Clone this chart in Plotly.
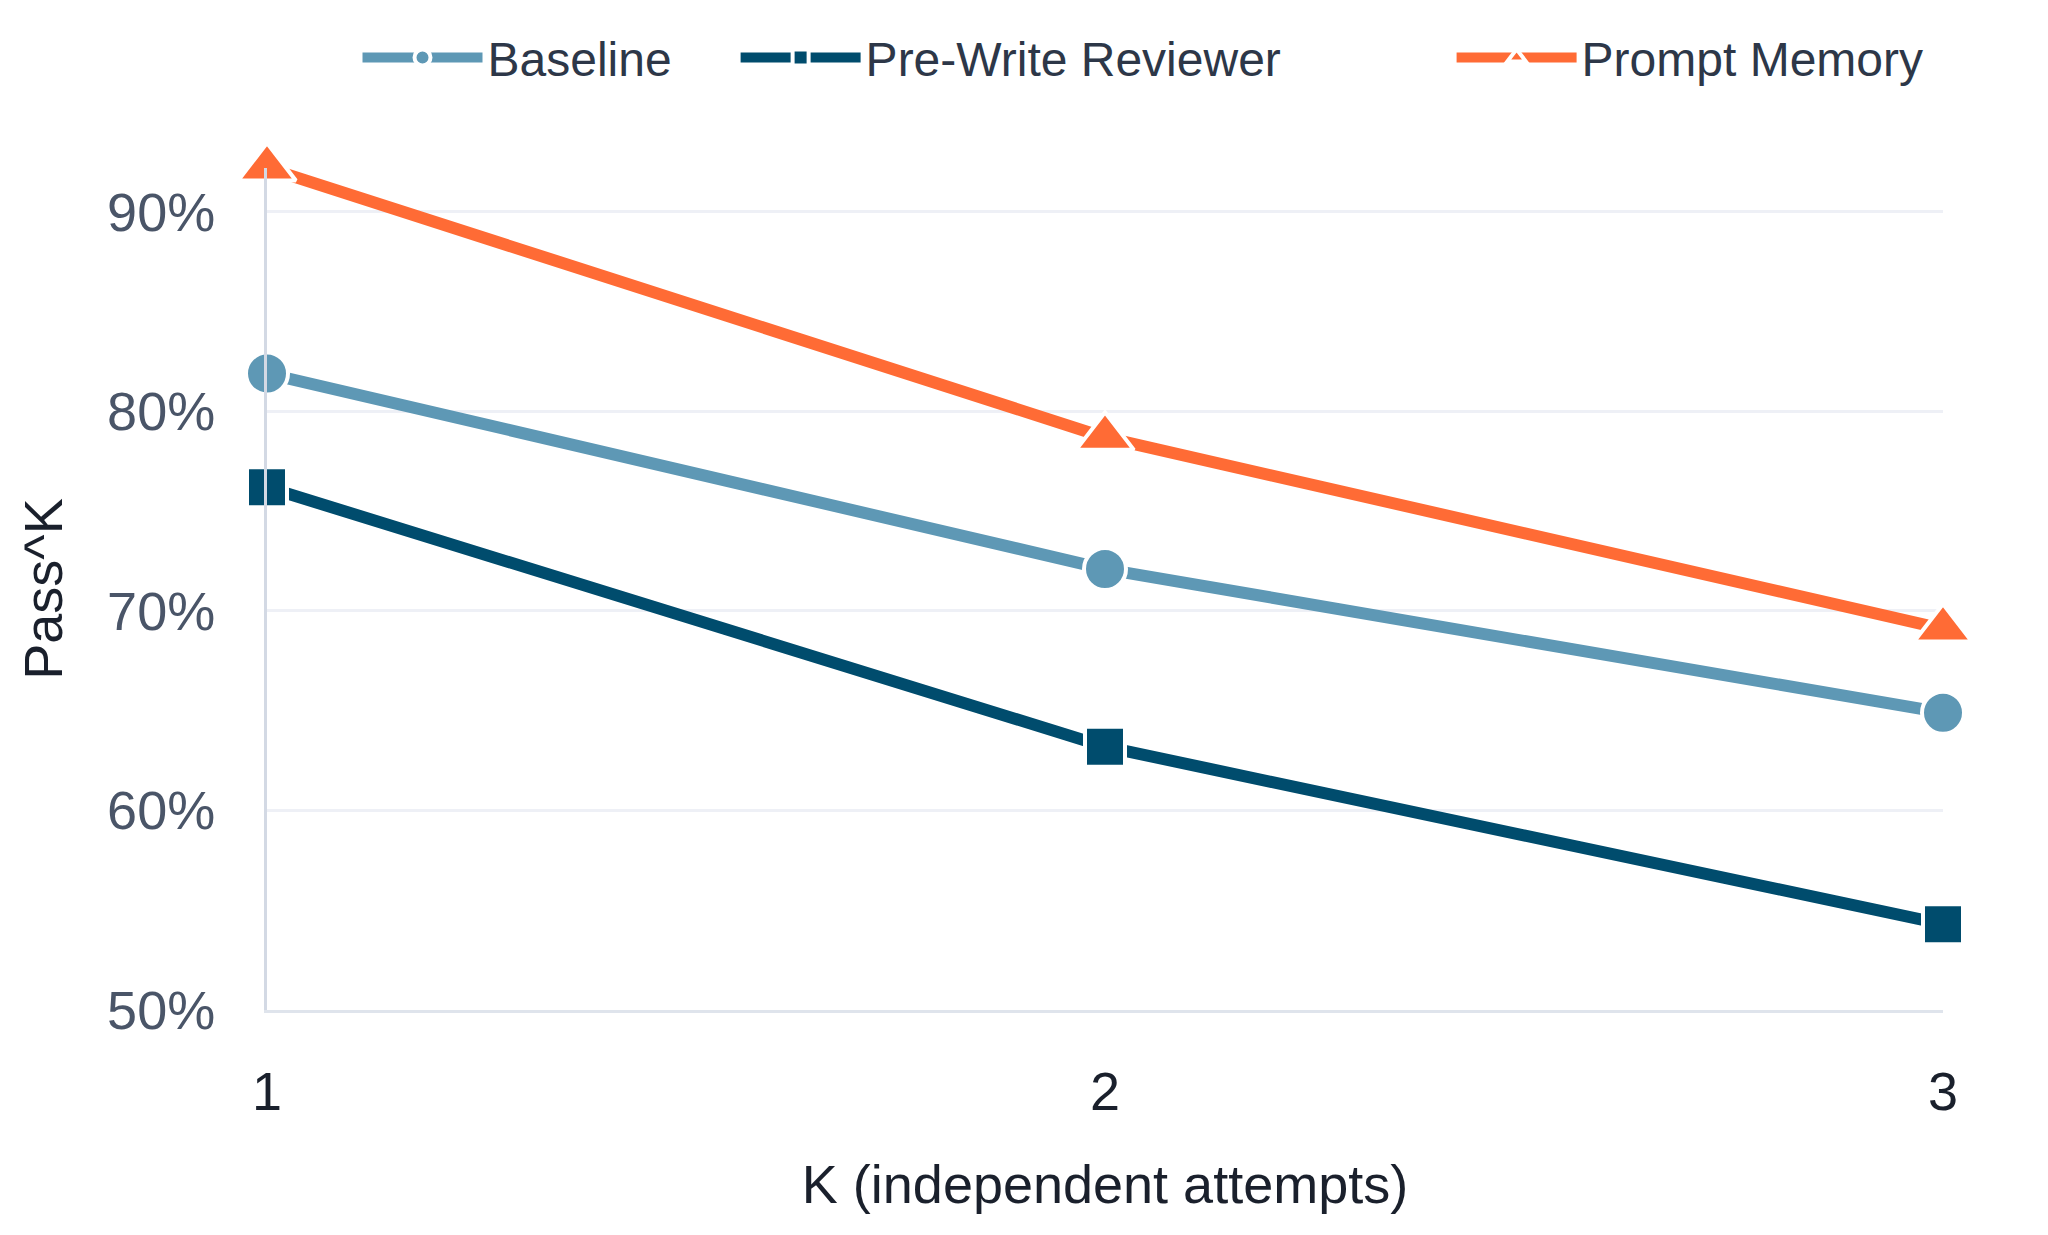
import plotly.graph_objects as go

# K values (independent attempts)
k_values = [1, 2, 3]

# Pass^K in percent
baseline = [81.9, 72.1, 64.9]
pre_write_reviewer = [76.2, 63.2, 54.3]
prompt_memory = [92.2, 78.7, 69.1]

y_ticks = [50, 60, 70, 80, 90]
y_tick_labels = ["50%", "60%", "70%", "80%", "90%"]

FONT = "Liberation Sans, Arial, Helvetica, sans-serif"

series = [
    ("Baseline", baseline, "#5e98b5", "circle", 42, "legend"),
    ("Pre-Write Reviewer", pre_write_reviewer, "#004c6d", "square", 40, "legend2"),
    ("Prompt Memory", prompt_memory, "#ff6b35", "triangle-up", 50, "legend3"),
]

fig = go.Figure()
for name, values, color, symbol, size, legend in series:
    fig.add_trace(go.Scatter(
        x=k_values,
        y=values,
        name=name,
        mode="lines+markers",
        line=dict(color=color, width=12),
        marker=dict(symbol=symbol, size=size, color=color,
                    line=dict(color="white", width=4)),
        cliponaxis=False,
        legend=legend,
        showlegend=True,
    ))

# one legend per entry so the entries sit where the reference puts them
legend_style = dict(
    orientation="h",
    yanchor="middle",
    y=1.131,
    xanchor="left",
    itemwidth=120,
    font=dict(family=FONT, size=48, color="#2d3748"),
    bgcolor="rgba(0,0,0,0)",
)

fig.update_layout(
    width=2048,
    height=1235,
    margin=dict(l=259, r=113, t=154, b=233),
    plot_bgcolor="white",
    paper_bgcolor="white",
    font=dict(family=FONT),
    showlegend=True,
    legend=dict(legend_style, x=0.054),
    legend2=dict(legend_style, x=0.2796),
    legend3=dict(legend_style, x=0.7068),
    xaxis=dict(
        range=[1, 3],
        tickvals=k_values,
        showgrid=False,
        zeroline=False,
        showline=True,
        linecolor="#dfe4ec",
        linewidth=3,
        ticks="",
        ticklabelstandoff=32,
        tickfont=dict(family=FONT, size=54, color="#1a202c"),
        title=dict(text="K (independent attempts)", standoff=46,
                   font=dict(family=FONT, size=54, color="#1a202c")),
    ),
    yaxis=dict(
        range=[50, 92.2],
        tickvals=y_ticks,
        ticktext=y_tick_labels,
        showgrid=True,
        gridcolor="#eef0f6",
        gridwidth=3,
        zeroline=False,
        showline=True,
        linecolor="#d3d9e4",
        linewidth=3,
        ticks="",
        ticklabelstandoff=38,
        tickfont=dict(family=FONT, size=54, color="#4a5568"),
        title=dict(text="Pass^K", standoff=28,
                   font=dict(family=FONT, size=54, color="#1a202c")),
    ),
)

fig.write_html("out.html")
